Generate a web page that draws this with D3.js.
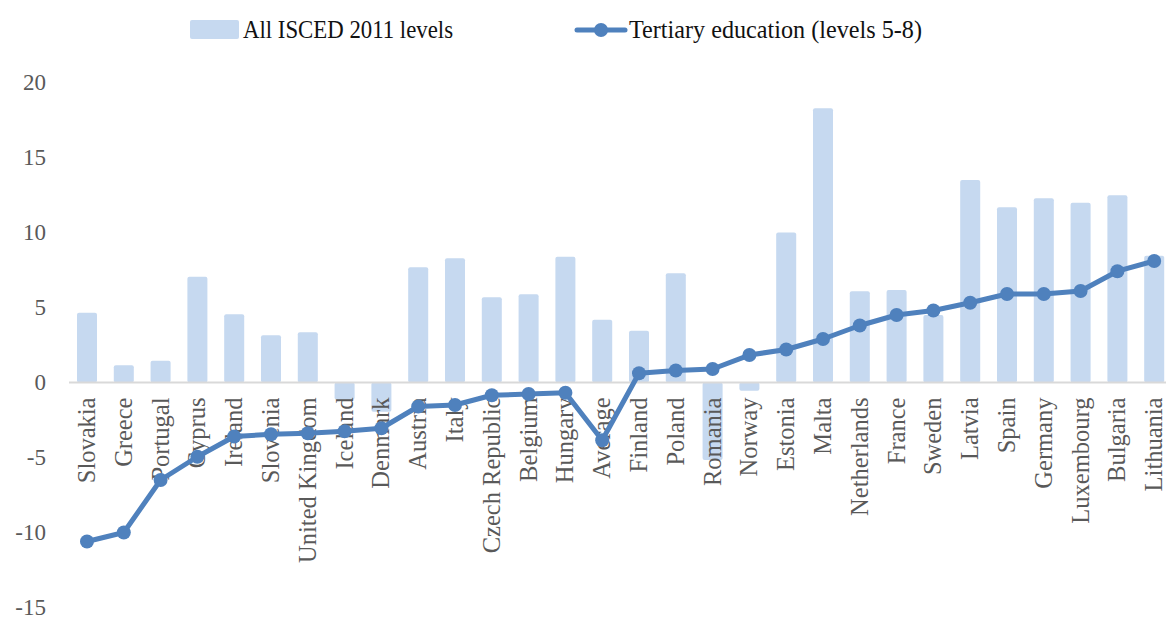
<!DOCTYPE html>
<html>
<head>
<meta charset="utf-8">
<script src="https://cdn.jsdelivr.net/npm/d3@7/dist/d3.min.js"></script>
<style>
  html, body { margin: 0; padding: 0; background: #fff; }
  svg { display: block; }
  text { font-family: "Liberation Serif", "DejaVu Serif", serif; }
</style>
</head>
<body>
<svg id="chart" width="1166" height="617"></svg>
<script>
// Countries, ordered by the tertiary-education gap
const categories = ["Slovakia", "Greece", "Portugal", "Cyprus", "Ireland", "Slovenia",
  "United Kingdom", "Iceland", "Denmark", "Austria", "Italy", "Czech Republic", "Belgium",
  "Hungary", "Average", "Finland", "Poland", "Romania", "Norway", "Estonia", "Malta",
  "Netherlands", "France", "Sweden", "Latvia", "Spain", "Germany", "Luxembourg",
  "Bulgaria", "Lithuania"];

// All ISCED 2011 levels
const allLevels = [4.65, 1.15, 1.45, 7.05, 4.55, 3.15, 3.35, -1.15, -1.95, 7.68, 8.28,
  5.68, 5.88, 8.38, 4.18, 3.45, 7.28, -5.17, -0.55, 10.0, 18.28, 6.08, 6.17, 4.5,
  13.5, 11.68, 12.28, 11.98, 12.48, 8.45];

// Tertiary education (levels 5-8)
const tertiary = [-10.6, -10.0, -6.5, -4.95, -3.6, -3.45, -3.38, -3.25, -3.05, -1.6,
  -1.5, -0.85, -0.77, -0.68, -3.85, 0.62, 0.8, 0.9, 1.83, 2.2, 2.9, 3.8, 4.5, 4.8,
  5.32, 5.9, 5.9, 6.1, 7.42, 8.1];

const yTicks = [-15, -10, -5, 0, 5, 10, 15, 20];
const seriesNames = ["All ISCED 2011 levels", "Tertiary education (levels 5-8)"];

const barColor = "#c6d9f0";
const lineColor = "#4f81bd";
const tickColor = "#595959";

const svg = d3.select("#chart");

const x = d3.scaleBand()
  .domain(categories)
  .range([68.6, 1172.6])
  .paddingInner(0.456)
  .paddingOuter(0.228);

const y = d3.scaleLinear()
  .domain([-15, 20])
  .range([607.5, 82.5]);

// Y axis labels (no axis line, no gridlines); plain hyphen for negatives
const yAxis = d3.axisLeft(y).tickValues(yTicks).tickSize(0).tickPadding(0)
  .tickFormat(d => String(d));
svg.append("g")
  .attr("transform", "translate(46,0)")
  .call(yAxis)
  .call(g => g.select(".domain").remove())
  .call(g => g.selectAll("text")
    .attr("fill", tickColor)
    .style("font-size", "23px")
    .style("font-family", "'Liberation Serif', serif"));

// Bars
svg.append("g")
  .selectAll("rect")
  .data(categories)
  .join("rect")
  .attr("x", d => x(d))
  .attr("width", x.bandwidth())
  .attr("y", (d, i) => Math.min(y(allLevels[i]), y(0)))
  .attr("height", (d, i) => Math.abs(y(allLevels[i]) - y(0)))
  .attr("rx", 2)
  .attr("fill", barColor);

// Zero line
svg.append("line")
  .attr("x1", 69).attr("x2", 1166)
  .attr("y1", y(0)).attr("y2", y(0))
  .attr("stroke", "#d9d9d9")
  .attr("stroke-width", 2);

// Category labels, rotated, hanging below the zero line
svg.append("g")
  .selectAll("text")
  .data(categories)
  .join("text")
  .attr("transform", d => `translate(${x(d) + x.bandwidth() / 2},${y(0) + 15}) rotate(-90)`)
  .attr("text-anchor", "end")
  .attr("dy", "0.33em")
  .attr("fill", tickColor)
  .style("font-size", "24.5px")
  .text(d => d);

// Tertiary line with markers
const cx = d => x(d) + x.bandwidth() / 2;
const line = d3.line()
  .x((d, i) => cx(categories[i]))
  .y(d => y(d));

svg.append("path")
  .datum(tertiary)
  .attr("d", line)
  .attr("fill", "none")
  .attr("stroke", lineColor)
  .attr("stroke-width", 5)
  .attr("stroke-linejoin", "round");

svg.append("g")
  .selectAll("circle")
  .data(tertiary)
  .join("circle")
  .attr("cx", (d, i) => cx(categories[i]))
  .attr("cy", d => y(d))
  .attr("r", 7)
  .attr("fill", lineColor);

// Legend
const legend = svg.append("g");
legend.append("rect")
  .attr("x", 190).attr("y", 20).attr("width", 49).attr("height", 19)
  .attr("rx", 2).attr("fill", barColor);
legend.append("text")
  .attr("x", 243).attr("y", 38)
  .attr("fill", "#111")
  .style("font-size", "25px")
  .attr("textLength", 210)
  .attr("lengthAdjust", "spacingAndGlyphs")
  .text(seriesNames[0]);

legend.append("line")
  .attr("x1", 577).attr("x2", 625).attr("y1", 30).attr("y2", 30)
  .attr("stroke", lineColor).attr("stroke-width", 5).attr("stroke-linecap", "round");
legend.append("circle")
  .attr("cx", 601).attr("cy", 30).attr("r", 7).attr("fill", lineColor);
legend.append("text")
  .attr("x", 629).attr("y", 38)
  .attr("fill", "#111")
  .style("font-size", "25px")
  .attr("textLength", 293)
  .attr("lengthAdjust", "spacingAndGlyphs")
  .text(seriesNames[1]);
</script>
</body>
</html>
